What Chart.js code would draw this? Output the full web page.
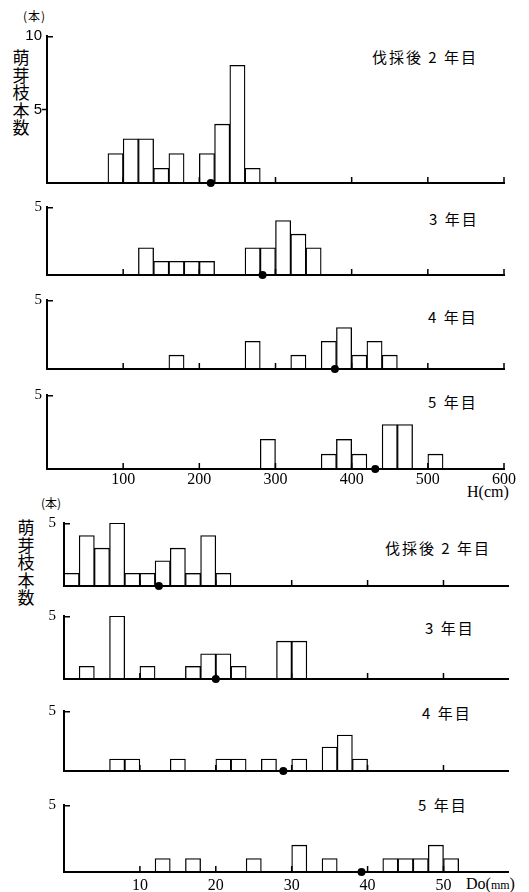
<!DOCTYPE html>
<html lang="ja">
<head>
<meta charset="UTF-8">
<title>萌芽枝本数の分布</title>
<script src="https://cdn.jsdelivr.net/npm/chart.js"></script>
<style>
  body { margin: 0; background: #fff; }
  #wrap { position: relative; width: 529px; height: 892px; overflow: hidden; }
  #wrap canvas { position: absolute; left: 0; }
  .lbl { position: absolute; white-space: nowrap; color: #000; font-family: 'Noto Sans CJK JP', sans-serif; font-size: 15px; line-height: 20px; letter-spacing: 2px; }
  .vt { position: absolute; width: 20px; color: #000; font-family: 'Noto Sans CJK JP', sans-serif; font-size: 17px; line-height: 17.5px; text-align: center; }
  .unit { position: absolute; white-space: nowrap; font-family: 'Noto Sans CJK JP', sans-serif; font-size: 12px; line-height: 14px; }
  .ax { position: absolute; white-space: nowrap; font-family: 'Liberation Serif', serif; font-size: 16px; line-height: 18px; }
</style>
</head>
<body>
<div id="wrap">
  <div class="unit" style="left:23px;top:9px;letter-spacing:1px">(本)</div>
  <div class="vt" style="left:11px;top:48px">萌<br>芽<br>枝<br>本<br>数</div>
  <div class="lbl" style="left:372px;top:47px">伐採後 2 年目</div>
  <div class="lbl" style="left:429px;top:209px">3 年目</div>
  <div class="lbl" style="left:428px;top:307px">4 年目</div>
  <div class="lbl" style="left:428px;top:392px">5 年目</div>
  <div class="ax" style="left:467px;top:483px">H(cm)</div>

  <div class="unit" style="left:41px;top:496px">(本)</div>
  <div class="vt" style="left:16px;top:518px">萌<br>芽<br>枝<br>本<br>数</div>
  <div class="lbl" style="left:385px;top:538px">伐採後 2 年目</div>
  <div class="lbl" style="left:425px;top:618px">3 年目</div>
  <div class="lbl" style="left:422px;top:703px">4 年目</div>
  <div class="lbl" style="left:418px;top:795px">5 年目</div>
  <div class="ax" style="left:466px;top:875px">Do(<span style="font-size:12px">mm</span>)</div>
</div>

<script>
  // 樹高 H (cm), 20cm階級
  const hBinStart = [0, 20, 40, 60, 80, 100, 120, 140, 160, 180, 200, 220, 240, 260, 280,
    300, 320, 340, 360, 380, 400, 420, 440, 460, 480, 500, 520, 540, 560, 580];
  const hYear2 = [0, 0, 0, 0, 2, 3, 3, 1, 2, 0, 2, 4, 8, 1, 0, 0, 0, 0, 0, 0, 0, 0, 0, 0, 0, 0, 0, 0, 0, 0];
  const hYear3 = [0, 0, 0, 0, 0, 0, 2, 1, 1, 1, 1, 0, 0, 2, 2, 4, 3, 2, 0, 0, 0, 0, 0, 0, 0, 0, 0, 0, 0, 0];
  const hYear4 = [0, 0, 0, 0, 0, 0, 0, 0, 1, 0, 0, 0, 0, 2, 0, 0, 1, 0, 2, 3, 1, 2, 1, 0, 0, 0, 0, 0, 0, 0];
  const hYear5 = [0, 0, 0, 0, 0, 0, 0, 0, 0, 0, 0, 0, 0, 0, 2, 0, 0, 0, 1, 2, 1, 0, 3, 3, 0, 1, 0, 0, 0, 0];
  const hMean = [215, 283, 378, 431];
  const hTicks = [100, 200, 300, 400, 500, 600];

  // 根元直径 Do (mm), 2mm階級
  const dBinStart = [0, 2, 4, 6, 8, 10, 12, 14, 16, 18, 20, 22, 24, 26, 28, 30, 32, 34, 36, 38,
    40, 42, 44, 46, 48, 50, 52, 54, 56];
  const dYear2 = [1, 4, 3, 5, 1, 1, 2, 3, 1, 4, 1, 0, 0, 0, 0, 0, 0, 0, 0, 0, 0, 0, 0, 0, 0, 0, 0, 0, 0];
  const dYear3 = [0, 1, 0, 5, 0, 1, 0, 0, 1, 2, 2, 1, 0, 0, 3, 3, 0, 0, 0, 0, 0, 0, 0, 0, 0, 0, 0, 0, 0];
  const dYear4 = [0, 0, 0, 1, 1, 0, 0, 1, 0, 0, 1, 1, 0, 1, 0, 1, 0, 2, 3, 1, 0, 0, 0, 0, 0, 0, 0, 0, 0];
  const dYear5 = [0, 0, 0, 0, 0, 0, 1, 0, 1, 0, 0, 0, 1, 0, 0, 2, 0, 1, 0, 0, 0, 1, 1, 1, 2, 1, 0, 0, 0];
  const dMean = [12.5, 20, 28.9, 39.2];
  const dTicks = [10, 20, 30, 40, 50];

  const W = 529;

  // small inward tick marks like the printed figure
  const marks = {
    id: 'marks',
    afterDraw(chart, args, opts) {
      const { ctx, chartArea: a, scales: { x, y } } = chart;
      ctx.save();
      ctx.strokeStyle = '#000';
      ctx.lineWidth = 1.5;
      ctx.beginPath();
      ctx.moveTo(a.left, a.top + 0.75);
      ctx.lineTo(a.left + 6, a.top + 0.75);
      (opts.xTicks || []).forEach(v => {
        const px = x.getPixelForValue(v);
        ctx.moveTo(px, a.bottom);
        ctx.lineTo(px, a.bottom - 6);
      });
      (opts.yTicks || []).forEach(v => {
        const py = y.getPixelForValue(v);
        ctx.moveTo(a.left, py);
        ctx.lineTo(a.left - 5, py);
      });
      ctx.stroke();
      ctx.restore();
    }
  };

  const makePanel = (p) => {
    const padTop = 12;
    const h = padTop + (p.bottom - p.top) + p.xh;
    const canvas = document.createElement('canvas');
    canvas.width = W;
    canvas.height = h;
    canvas.style.top = (p.top - padTop) + 'px';
    canvas.style.width = W + 'px';
    canvas.style.height = h + 'px';
    document.getElementById('wrap').appendChild(canvas);

    const barData = p.counts.map((c, i) => ({ x: p.bins[i] + p.binW / 2, y: c || null }));

    new Chart(canvas.getContext('2d'), {
      type: 'bar',
      data: {
        datasets: [
          {
            data: barData,
            backgroundColor: '#fff',
            borderColor: '#000',
            borderWidth: 1.3,
            barPercentage: 1,
            categoryPercentage: 1,
            order: 2
          },
          {
            // 平均値
            type: 'scatter',
            data: [{ x: p.mean, y: 0 }],
            pointRadius: 4,
            pointBackgroundColor: '#000',
            pointBorderWidth: 0,
            clip: false,
            order: 1
          }
        ]
      },
      options: {
        responsive: false,
        animation: false,
        events: [],
        layout: { padding: { top: padTop, right: W - p.right, left: 0, bottom: 0 } },
        plugins: {
          legend: { display: false },
          tooltip: { enabled: false },
          marks: { xTicks: p.xTicks, yTicks: p.yTicks }
        },
        scales: {
          x: {
            type: 'linear',
            min: 0,
            max: p.xMax,
            offset: false,
            grid: { display: false, drawTicks: false, offset: false },
            border: { color: '#000', width: 2, z: 1 },
            ticks: {
              display: p.showX,
              stepSize: p.step,
              padding: p.xPad,
              color: '#000',
              font: { family: 'Liberation Serif', size: 16 },
              callback: v => (v > 0 && v % p.step === 0) ? v : ''
            },
            afterFit: s => { s.height = p.xh; }
          },
          y: {
            min: 0,
            max: p.yMax,
            grid: { display: false, drawTicks: false },
            border: { color: '#000', width: 2, z: 1 },
            ticks: {
              stepSize: 5,
              padding: p.yPad,
              color: '#000',
              font: { family: p.yFont, size: 15 },
              callback: v => v > 0 ? v : ''
            },
            afterFit: s => { s.width = p.left; }
          }
        }
      },
      plugins: [marks]
    });
  };

  const hPanels = [
    { counts: hYear2, mean: hMean[0], top: 34, bottom: 189, yMax: 10, yTicks: [5], xh: 8, showX: false },
    { counts: hYear3, mean: hMean[1], top: 205, bottom: 281, yMax: 5, yTicks: [], xh: 8, showX: false },
    { counts: hYear4, mean: hMean[2], top: 298, bottom: 375, yMax: 5, yTicks: [], xh: 8, showX: false },
    { counts: hYear5, mean: hMean[3], top: 393, bottom: 469, yMax: 5, yTicks: [], xh: 26, showX: true }
  ];
  hPanels.forEach((p, i) => makePanel(Object.assign({
    bins: hBinStart, binW: 20, left: 47, right: 504, xMax: 600, step: 100,
    xTicks: hTicks, xPad: 1, yPad: 5, yFont: i === 0 ? 'Liberation Sans' : 'Liberation Serif'
  }, p)));

  const dPanels = [
    { counts: dYear2, mean: dMean[0], top: 518, bottom: 595, xh: 8, showX: false },
    { counts: dYear3, mean: dMean[1], top: 611, bottom: 688, xh: 8, showX: false },
    { counts: dYear4, mean: dMean[2], top: 706, bottom: 780, xh: 8, showX: false },
    { counts: dYear5, mean: dMean[3], top: 800, bottom: 872, xh: 20, showX: true }
  ];
  dPanels.forEach(p => makePanel(Object.assign({
    bins: dBinStart, binW: 2, left: 64, right: 508, xMax: 58.5, step: 10, yMax: 5, yTicks: [],
    xTicks: dTicks, xPad: 4, yPad: 8, yFont: 'Liberation Serif'
  }, p)));
</script>
</body>
</html>
